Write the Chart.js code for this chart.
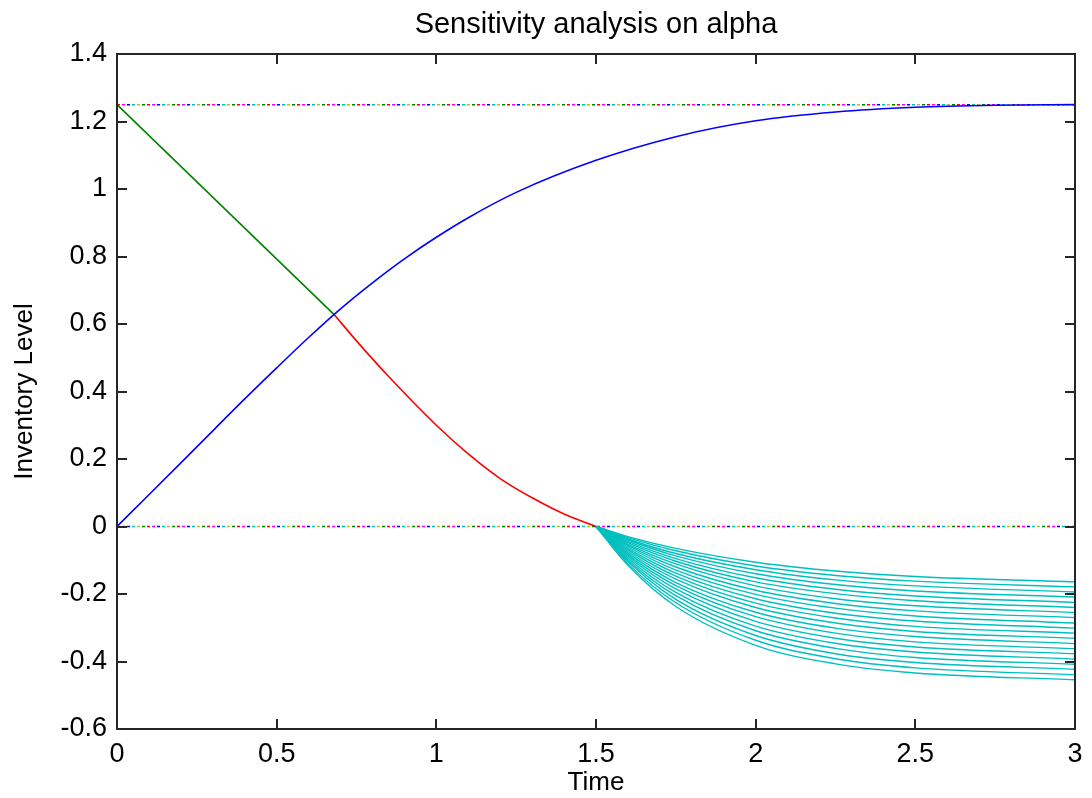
<!DOCTYPE html>
<html>
<head>
<meta charset="utf-8">
<script src="https://cdn.jsdelivr.net/npm/chart.js@4"></script>
<style>
  html, body { margin: 0; padding: 0; background: #fff; }
  #wrap { width: 1092px; height: 798px; }
</style>
</head>
<body>
<div id="wrap"><canvas id="chart" width="1092" height="798"></canvas></div>
<script>
// axis ticks
const xTicks = [0, 0.5, 1, 1.5, 2, 2.5, 3];
const xTickLabels = ['0', '0.5', '1', '1.5', '2', '2.5', '3'];
const yTicks = [-0.6, -0.4, -0.2, 0, 0.2, 0.4, 0.6, 0.8, 1, 1.2, 1.4];
const yTickLabels = ['-0.6', '-0.4', '-0.2', '0', '0.2', '0.4', '0.6', '0.8', '1', '1.2', '1.4'];

// blue: inventory build-up
const blueT = [0, 0.1, 0.25, 0.4, 0.5, 0.6, 0.7, 0.8, 0.9, 1.0, 1.1, 1.25, 1.5, 1.75, 2.0, 2.25, 2.5, 2.75, 3.0];
const blueY = [0, 0.094, 0.236, 0.378, 0.47, 0.56, 0.645, 0.722, 0.793, 0.857, 0.915, 0.99, 1.085, 1.155, 1.202, 1.228, 1.242, 1.248, 1.25];

// green: linear depletion
const greenT = [0, 0.68];
const greenY = [1.25, 0.628];

// red: depletion after switch
const redT = [0.68, 0.75, 0.85, 1.0, 1.1, 1.2, 1.3, 1.4, 1.5];
const redY = [0.628, 0.55, 0.445, 0.3, 0.215, 0.142, 0.085, 0.037, 0];

// cyan: shortage curves for each alpha
const cyanT = [1.5, 1.6, 1.75, 2.0, 2.25, 2.5, 3.0];
const cyanRows = [
  [0, -0.030, -0.065, -0.106, -0.132, -0.148, -0.164],
  [0, -0.033, -0.072, -0.117, -0.145, -0.162, -0.179],
  [0, -0.037, -0.080, -0.128, -0.158, -0.176, -0.194],
  [0, -0.040, -0.087, -0.140, -0.172, -0.191, -0.209],
  [0, -0.044, -0.095, -0.152, -0.186, -0.206, -0.225],
  [0, -0.048, -0.103, -0.164, -0.199, -0.220, -0.240],
  [0, -0.052, -0.111, -0.176, -0.214, -0.235, -0.255],
  [0, -0.056, -0.120, -0.189, -0.228, -0.250, -0.270],
  [0, -0.060, -0.129, -0.201, -0.242, -0.265, -0.286],
  [0, -0.065, -0.138, -0.214, -0.257, -0.280, -0.301],
  [0, -0.069, -0.147, -0.227, -0.271, -0.296, -0.316],
  [0, -0.074, -0.156, -0.240, -0.286, -0.311, -0.331],
  [0, -0.079, -0.166, -0.254, -0.301, -0.326, -0.347],
  [0, -0.084, -0.175, -0.267, -0.316, -0.342, -0.362],
  [0, -0.089, -0.185, -0.281, -0.331, -0.357, -0.377],
  [0, -0.094, -0.195, -0.295, -0.346, -0.372, -0.393],
  [0, -0.099, -0.205, -0.309, -0.361, -0.388, -0.408],
  [0, -0.104, -0.216, -0.323, -0.377, -0.403, -0.423],
  [0, -0.110, -0.226, -0.337, -0.392, -0.419, -0.439],
  [0, -0.115, -0.237, -0.352, -0.407, -0.434, -0.454]
];

// dotted reference levels
const refT = [0, 3];
const refLevels = [1.25, 0];
const refColors = ['#ff0000', '#ff00ff', '#0000ff', '#00bfbf', '#bfbf00', '#008000'];

const FONT = 'Liberation Sans, Arial, sans-serif';

function pts(xs, ys) {
  return xs.map((x, i) => ({x: x, y: ys[i]}));
}

const datasets = [];

datasets.push({data: pts(blueT, blueY), borderColor: '#0000ff', borderWidth: 1.6, cubicInterpolationMode: 'monotone'});
datasets.push({data: pts(greenT, greenY), borderColor: '#008000', borderWidth: 1.6, tension: 0});
datasets.push({data: pts(redT, redY), borderColor: '#ff0000', borderWidth: 1.6, cubicInterpolationMode: 'monotone'});

cyanRows.forEach(row => {
  datasets.push({data: pts(cyanT, row), borderColor: '#00bfbf', borderWidth: 1.4, cubicInterpolationMode: 'monotone'});
});

refLevels.forEach(level => {
  refColors.forEach((c, j) => {
    datasets.push({
      data: pts(refT, [level, level]),
      borderColor: c,
      borderWidth: 1.5,
      borderDash: [3, 27],
      borderDashOffset: -5 * j
    });
  });
});

// box round the plot area plus inward ticks on all four sides
const boxPlugin = {
  id: 'box',
  afterDraw(chart) {
    const {ctx, chartArea: a, scales} = chart;
    const len = 10;
    ctx.save();
    ctx.strokeStyle = '#262626';
    ctx.lineWidth = 2;
    ctx.strokeRect(a.left, a.top, a.right - a.left, a.bottom - a.top);
    ctx.beginPath();
    scales.x.ticks.forEach(t => {
      const px = Math.round(scales.x.getPixelForValue(t.value));
      ctx.moveTo(px, a.bottom); ctx.lineTo(px, a.bottom - len);
      ctx.moveTo(px, a.top); ctx.lineTo(px, a.top + len);
    });
    scales.y.ticks.forEach(t => {
      const py = Math.round(scales.y.getPixelForValue(t.value));
      ctx.moveTo(a.left, py); ctx.lineTo(a.left + len, py);
      ctx.moveTo(a.right, py); ctx.lineTo(a.right - len, py);
    });
    ctx.stroke();
    ctx.restore();
  }
};

new Chart(document.getElementById('chart'), {
  type: 'line',
  data: {datasets: datasets},
  plugins: [boxPlugin],
  options: {
    responsive: false,
    animation: false,
    layout: {padding: {left: 0, right: 17, top: 0, bottom: 0}},
    elements: {point: {radius: 0}},
    plugins: {
      legend: {display: false},
      tooltip: {enabled: false}
    },
    scales: {
      // top axis only carries the title, so it centres over the plot area
      x2: {
        type: 'linear',
        position: 'top',
        min: 0,
        max: 3,
        afterFit: s => { s.height = 54; },
        grid: {display: false, drawTicks: false},
        border: {display: false},
        ticks: {display: false},
        title: {
          display: true,
          text: 'Sensitivity analysis on alpha',
          color: '#000',
          font: {family: FONT, size: 29},
          padding: {top: 8, bottom: 0}
        }
      },
      x: {
        type: 'linear',
        min: 0,
        max: 3,
        afterBuildTicks: s => { s.ticks = xTicks.map(v => ({value: v})); },
        afterFit: s => { s.height = 69; },
        grid: {display: false, drawTicks: false},
        border: {display: false},
        ticks: {
          color: '#000',
          padding: 9,
          font: {family: FONT, size: 27},
          callback: (v, i) => xTickLabels[i]
        },
        title: {
          display: true,
          text: 'Time',
          color: '#000',
          font: {family: FONT, size: 26},
          padding: {top: 0, bottom: 0}
        }
      },
      y: {
        type: 'linear',
        min: -0.6,
        max: 1.4,
        afterBuildTicks: s => { s.ticks = yTicks.map(v => ({value: v})); },
        afterFit: s => { s.width = 117; },
        grid: {display: false, drawTicks: false},
        border: {display: false},
        ticks: {
          color: '#000',
          padding: 10,
          font: {family: FONT, size: 27},
          callback: (v, i) => yTickLabels[i]
        },
        title: {
          display: true,
          text: 'Inventory Level',
          color: '#000',
          font: {family: FONT, size: 26},
          padding: {top: 9, bottom: 0}
        }
      }
    }
  }
});
</script>
</body>
</html>
